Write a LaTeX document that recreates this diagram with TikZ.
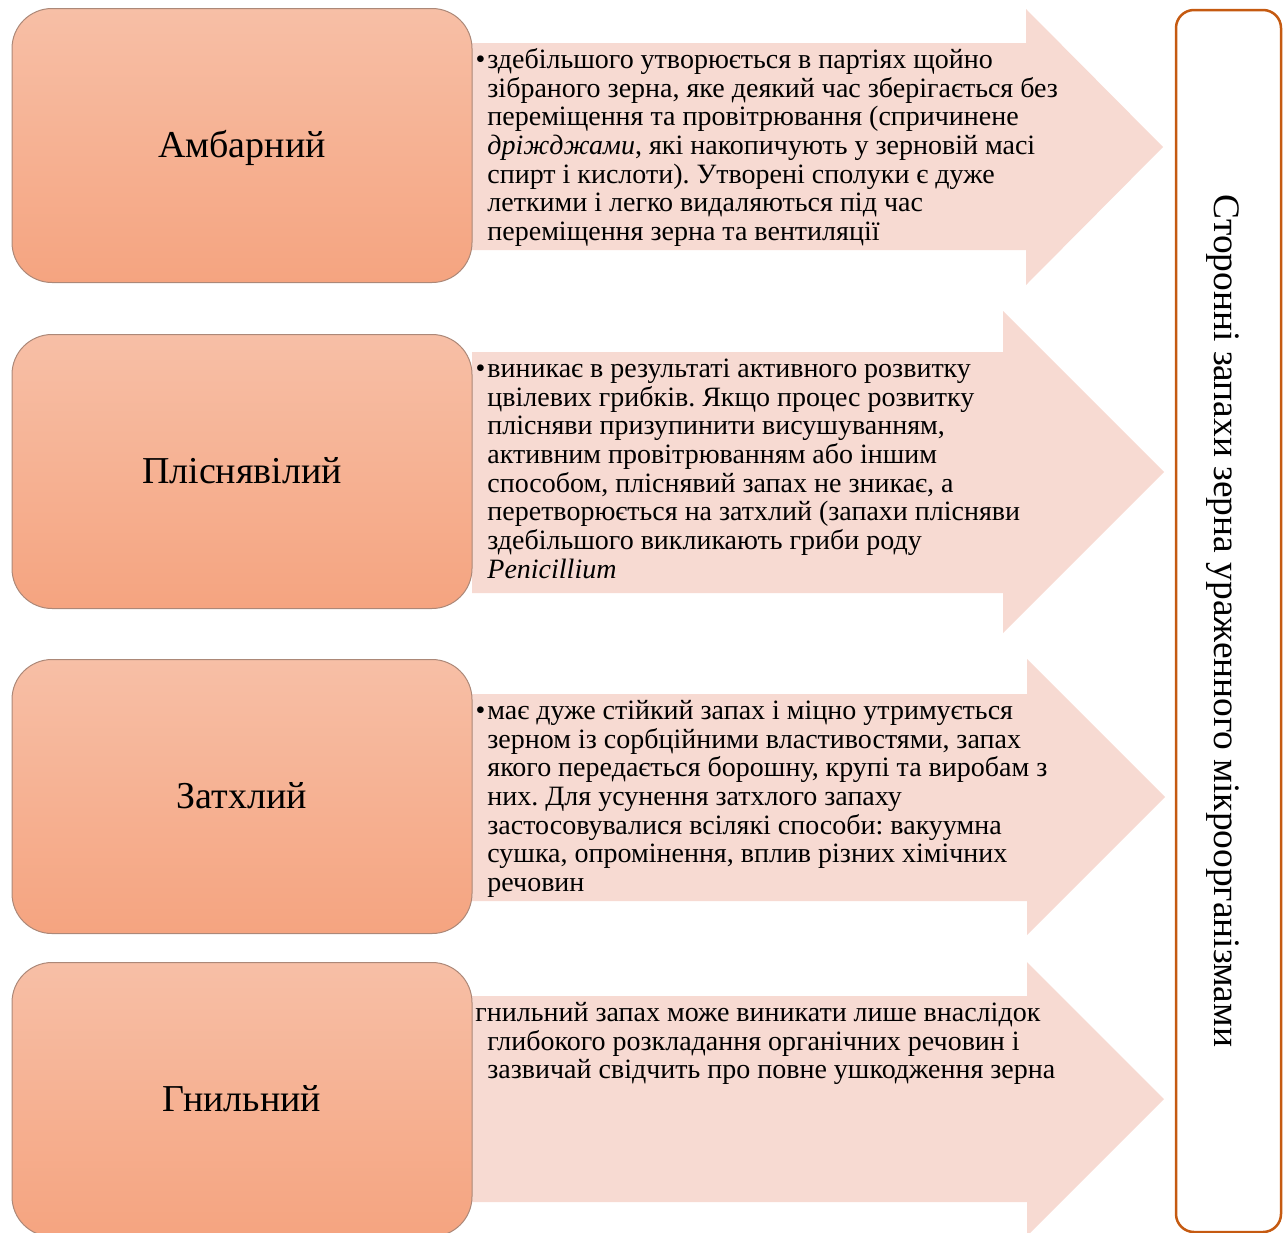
\documentclass[tikz,border=0pt]{standalone}
\usepackage{fontspec}
\setmainfont{Liberation Serif}
\frenchspacing

\definecolor{boxtop}{RGB}{247,191,166}
\definecolor{boxbot}{RGB}{245,164,128}
\definecolor{boxedge}{RGB}{172,136,120}
\definecolor{arrowfill}{RGB}{247,218,210}
\definecolor{frameorange}{RGB}{197,90,17}

\tikzset{
  catbox/.style={rectangle, rounded corners=20pt, minimum width=230pt,
    minimum height=137pt, top color=boxtop, bottom color=boxbot,
    draw=boxedge, line width=0.5pt, inner sep=0pt,
    font=\fontsize{19}{22}\selectfont, text height=14pt, text depth=2pt},
  desc/.style={font=\fontsize{14}{14.35}\selectfont, align=left,
    anchor=north west, inner sep=0pt},
  band/.style={fill=arrowfill},
  sideframe/.style={rectangle, rounded corners=9pt, draw=frameorange,
    line width=1.25pt, rotate=-90, minimum width=611pt, minimum height=52.5pt,
    inner sep=0pt, font=\fontsize{18.7}{22}\selectfont,
    text height=15pt, text depth=1pt},
}
\newcommand{\bul}{\llap{•\hspace{1pt}}}

\begin{document}
\begin{tikzpicture}[x=0.5pt, y=-0.5pt]
  \useasboundingbox (0,0) rectangle (1285,1232);
  \clip (0,0) rectangle (1285,1232);

  % wide arrows carrying the descriptions
  \fill[band] (472,43) -- (1026,43) -- (1026,9) -- (1163,147)
    -- (1026,285) -- (1026,250) -- (472,250) -- cycle;
  \fill[band] (472,352) -- (1003,352) -- (1003,311) -- (1164,472)
    -- (1003,633) -- (1003,593) -- (472,593) -- cycle;
  \fill[band] (472,694) -- (1027,694) -- (1027,659) -- (1165,797)
    -- (1027,935) -- (1027,901) -- (472,901) -- cycle;
  \fill[band] (472,996) -- (1027,996) -- (1027,962) -- (1164,1099)
    -- (1027,1236) -- (1027,1202) -- (472,1202) -- cycle;

  % kinds of odour
  \node[catbox] (k1) at (242,145.5) {Амбарний};
  \node[catbox] (k2) at (242,471.5) {Пліснявілий};
  \node[catbox] (k3) at (242,796.5) {Затхлий};
  \node[catbox] (k4) at (242,1099.5) {Гнильний};

  % descriptions
  \node[desc] (d1) at (487,47.9) {\strut\bul здебільшого утворюється в партіях щойно\\
    зібраного зерна, яке деякий час зберігається без\\
    переміщення та провітрювання (спричинене\\
    \textit{дріжджами}, які накопичують у зерновій масі\\
    спирт і кислоти). Утворені сполуки є дуже\\
    леткими і легко видаляються під час\\
    переміщення зерна та вентиляції};

  \node[desc] (d2) at (487,356.9) {\strut\bul виникає в результаті активного розвитку\\
    цвілевих грибків. Якщо процес розвитку\\
    плісняви призупинити висушуванням,\\
    активним провітрюванням або іншим\\
    способом, пліснявий запах не зникає, а\\
    перетворюється на затхлий (запахи плісняви\\
    здебільшого викликають гриби роду\\
    \textit{Penicillium}};

  \node[desc] (d3) at (487,698.9) {\strut\bul має дуже стійкий запах і міцно утримується\\
    зерном із сорбційними властивостями, запах\\
    якого передається борошну, крупі та виробам з\\
    них. Для усунення затхлого запаху\\
    застосовувалися всілякі способи: вакуумна\\
    сушка, опромінення, вплив різних хімічних\\
    речовин};

  \node[desc] (d4) at (475,1000.9) {\strut гнильний запах може виникати лише внаслідок\\
    \hspace*{6pt}глибокого розкладання органічних речовин і\\
    \hspace*{6pt}зазвичай свідчить про повне ушкодження зерна};

  % common heading on the right
  \node[sideframe] (head) at (1228.5,621)
    {Сторонні запахи зерна ураженного мікроорганізмами};
\end{tikzpicture}
\end{document}
